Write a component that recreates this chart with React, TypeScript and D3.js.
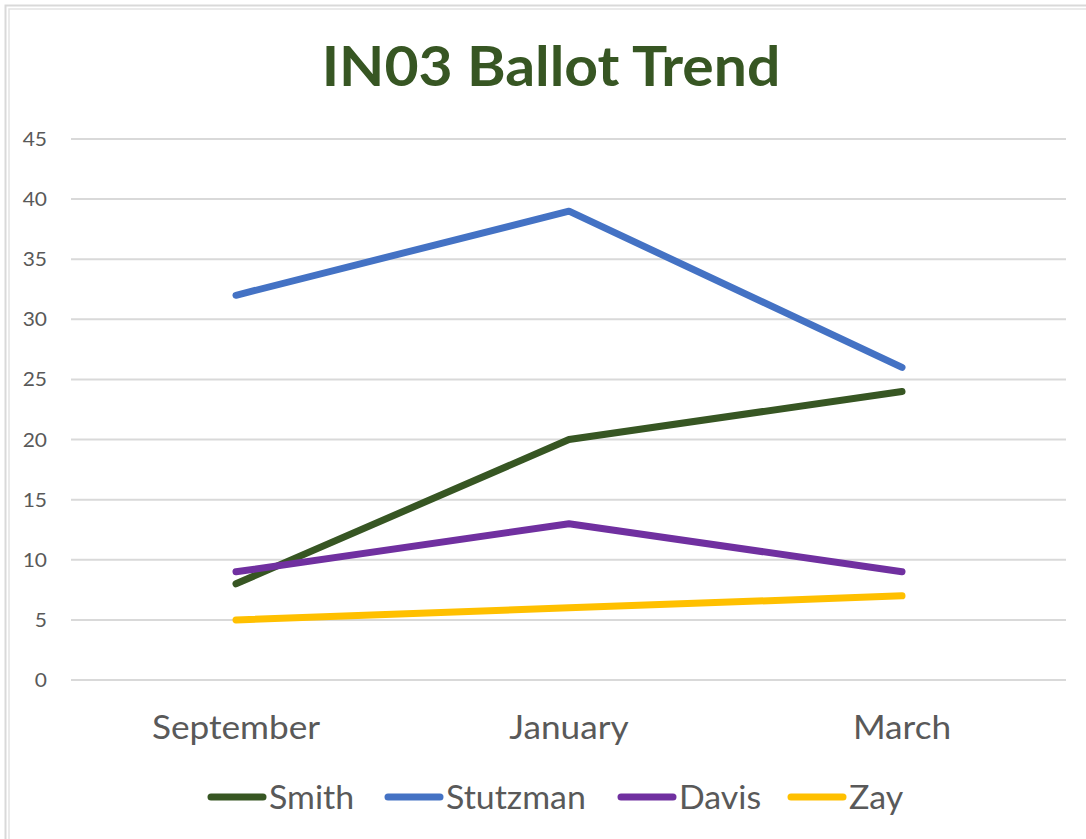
import React from "react";
import * as d3 from "d3";

const categories = ["September", "January", "March"];
const seriesNames = ["Smith", "Stutzman", "Davis", "Zay"];
const smith = [8, 20, 24];
const stutzman = [32, 39, 26];
const davis = [9, 13, 9];
const zay = [5, 6, 7];
const yTicks = [0, 5, 10, 15, 20, 25, 30, 35, 40, 45];
const colors = ["#375623", "#4472C4", "#7030A0", "#FFC000"];

const W = 1086, H = 839;
const FONT = "Lato, 'Open Sans', sans-serif";

function T(props: { x: number; y: number; sx: number; children: React.ReactNode; [k: string]: any }) {
  const { x, y, sx, children, ...rest } = props;
  return (
    <text transform={`translate(${x},${y}) scale(${sx},1)`} fontFamily={FONT} {...rest}>{children}</text>
  );
}

export default function App() {
  const x = d3.scalePoint<string>().domain(categories).range([236, 902]);
  const y = d3.scaleLinear().domain([0, 45]).range([680, 139]);
  const line = d3.line<number>().x((_, i) => x(categories[i]) as number).y((d) => y(d));
  const all = [smith, stutzman, davis, zay];
  const legendX = [208, 385, 618, 788];
  return (
    <svg width={W} height={H} style={{ position: "absolute", left: 0, top: 0 }}>
      <rect x={0} y={0} width={W} height={H} fill="#fff" />
      <rect x={5.5} y={5.5} width={W + 10} height={H + 10} fill="none" stroke="#d9d9d9" strokeWidth={2} />
      <rect x={9} y={9} width={W + 10} height={H + 10} fill="none" stroke="#e3e3e3" strokeWidth={1.5} />
      <T x={551} y={86} sx={1.07} textAnchor="middle" fontWeight="bold" fontSize={55} fill="#375623">IN03 Ballot Trend</T>
      {yTicks.map((t) => (
        <g key={t}>
          <line x1={71} x2={1066} y1={y(t)} y2={y(t)} stroke="#d9d9d9" strokeWidth={2} />
          <T x={47} y={y(t) + 7} sx={1.05} textAnchor="end" fontSize={20} fill="#595959">{t}</T>
        </g>
      ))}
      {categories.map((c) => (
        <T key={c} x={x(c) as number} y={739} sx={1.1} textAnchor="middle" fontSize={32} fill="#595959">{c}</T>
      ))}
      {all.map((s, i) => (
        <path key={i} d={line(s) || ""} fill="none" stroke={colors[i]} strokeWidth={7} strokeLinejoin="round" strokeLinecap="round" />
      ))}
      {seriesNames.map((n, i) => (
        <g key={n}>
          <line x1={legendX[i] + 3} x2={legendX[i] + 55} y1={797} y2={797} stroke={colors[i]} strokeWidth={7} strokeLinecap="round" />
          <T x={legendX[i] + 61} y={809} sx={1.06} fontSize={32} fill="#595959">{n}</T>
        </g>
      ))}
    </svg>
  );
}
